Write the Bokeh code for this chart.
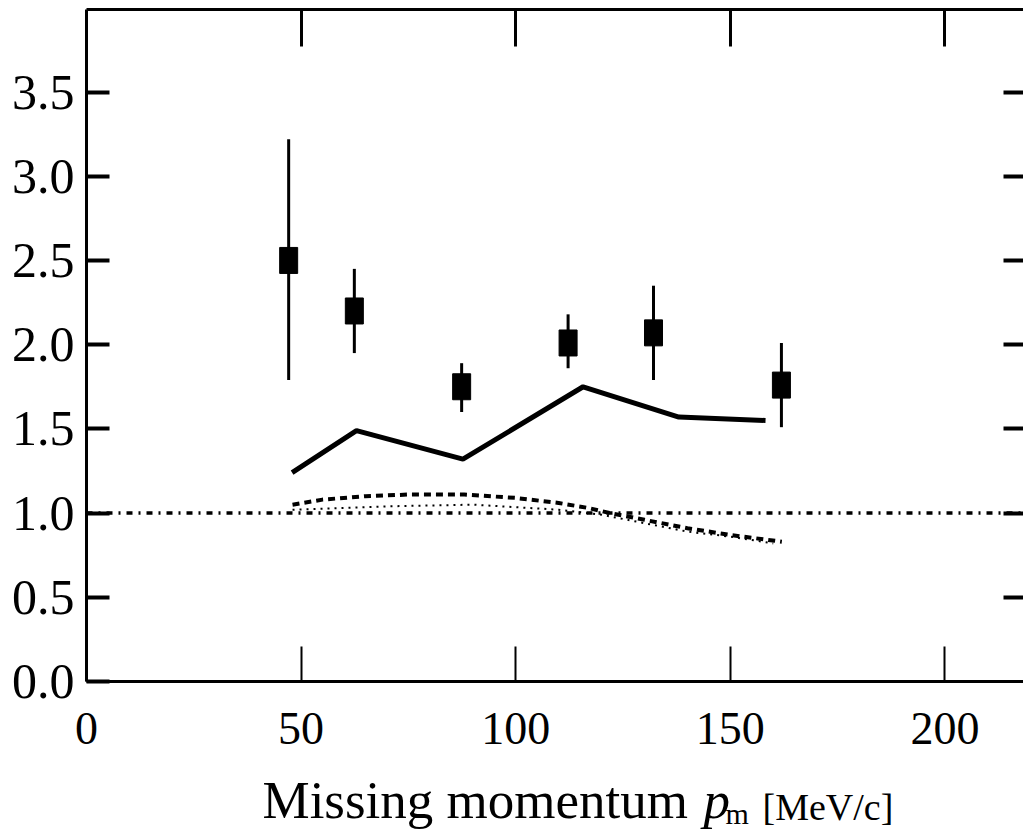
from bokeh.plotting import figure
from bokeh.models import Range1d, LinearAxis, FixedTicker
from bokeh.layouts import column
from bokeh.core.properties import value
from bokeh.embed import file_html
from bokeh.resources import INLINE

# ---- data ----
pm_data = [47.1, 62.4, 87.4, 112.2, 132.1, 161.9]
ratio_data = [2.50, 2.20, 1.75, 2.01, 2.07, 1.76]
err_low = [1.79, 1.95, 1.60, 1.86, 1.79, 1.51]
err_high = [3.22, 2.45, 1.89, 2.18, 2.35, 2.01]

solid_x = [47.9, 62.9, 87.7, 115.7, 138.0, 158.2]
solid_y = [1.24, 1.49, 1.32, 1.75, 1.57, 1.55]

dashed_x = [48, 55, 65, 75, 88, 100, 110, 117, 122, 130, 140, 150, 162]
dashed_y = [1.05, 1.08, 1.10, 1.11, 1.11, 1.09, 1.06, 1.03, 1.00, 0.96, 0.91, 0.87, 0.83]

dotted_x = [48, 70, 90, 110, 120, 130, 140, 150, 160]
dotted_y = [1.02, 1.04, 1.05, 1.02, 0.99, 0.94, 0.89, 0.86, 0.82]

unity_x = [0, 218.3]
unity_y = [1.0, 1.0]

x_ticks = [0, 50, 100, 150, 200]
x_tick_labels = ["0", "50", "100", "150", "200"]
y_ticks = [0.0, 0.5, 1.0, 1.5, 2.0, 2.5, 3.0, 3.5]
y_tick_labels = ["0.0", "0.5", "1.0", "1.5", "2.0", "2.5", "3.0", "3.5"]

title_parts = ["Missing momentum", "p", "m", "[MeV/c]"]

FONT = "Liberation Serif"

p = figure(width=1023, height=766, output_backend="svg", toolbar_location=None,
           x_range=Range1d(0, 218.3), y_range=Range1d(0, 3.99),
           min_border_left=86, min_border_right=0, min_border_top=9,
           min_border_bottom=85)
p.background_fill_color = "white"
p.border_fill_color = "white"
p.outline_line_color = None
p.xgrid.visible = False
p.ygrid.visible = False

# bottom axis
xa = p.xaxis[0]
xa.ticker = FixedTicker(ticks=x_ticks)
xa.major_label_overrides = {t: l for t, l in zip(x_ticks, x_tick_labels)}
xa.major_tick_in = 35
xa.major_tick_out = 0
xa.minor_tick_in = 0
xa.minor_tick_out = 0
xa.major_tick_line_width = 2
xa.axis_line_width = 3
xa.major_label_text_font = FONT
xa.major_label_text_font_size = "46px"
xa.major_label_text_color = "black"
xa.major_label_standoff = 31

# left axis
ya = p.yaxis[0]
ya.ticker = FixedTicker(ticks=y_ticks)
ya.major_label_overrides = {t: l for t, l in zip(y_ticks, y_tick_labels)}
ya.major_tick_in = 23
ya.major_tick_out = 0
ya.minor_tick_in = 0
ya.minor_tick_out = 0
ya.major_tick_line_width = 4
ya.axis_line_width = 3
ya.major_label_text_font = FONT
ya.major_label_text_font_size = "50px"
ya.major_label_text_color = "black"
ya.major_label_standoff = 12

# top axis (ticks only)
top = LinearAxis(ticker=FixedTicker(ticks=x_ticks[1:]), major_tick_in=37, major_tick_out=0,
                 minor_tick_in=0, minor_tick_out=0, major_tick_line_width=3,
                 axis_line_width=3, major_label_overrides={t: "" for t in x_ticks[1:]},
                 major_label_standoff=0)
p.add_layout(top, "above")

# right axis (ticks only)
right = LinearAxis(ticker=FixedTicker(ticks=y_ticks[1:]), major_tick_in=20, major_tick_out=0,
                   minor_tick_in=0, minor_tick_out=0, major_tick_line_width=4,
                   axis_line_color=None, major_label_overrides={t: "" for t in y_ticks[1:]},
                   major_label_standoff=0)
p.add_layout(right, "right")

# curves
p.line(unity_x, unity_y, line_color="black", line_width=3.5, line_dash="6 6 2 6")
p.line(dotted_x, dotted_y, line_color="black", line_width=2, line_dash="2 5")
p.line(dashed_x, dashed_y, line_color="black", line_width=4, line_dash="7 5")
p.line(solid_x, solid_y, line_color="black", line_width=5)

# data with error bars
p.segment(x0=pm_data, y0=err_low, x1=pm_data, y1=err_high, line_color="black", line_width=3)
p.rect(x=pm_data, y=ratio_data, width=18, height=26, width_units="screen",
       height_units="screen", fill_color="black", line_color="black")

# x-axis title strip (italic p, subscript m); x in page pixels
t = figure(width=1023, height=74, output_backend="svg", toolbar_location=None,
           x_range=Range1d(86, 1023), y_range=Range1d(74, 0),
           min_border_left=86, min_border_right=0, min_border_top=0, min_border_bottom=0)
t.axis.visible = False
t.grid.visible = False
t.outline_line_color = None
t.background_fill_color = "white"
t.border_fill_color = "white"
t.text(x=[262], y=[33], text=[title_parts[0]], text_font=value(FONT), text_font_size="53px",
       text_align="left", text_baseline="alphabetic", text_color="black")
t.text(x=[703], y=[33], text=[title_parts[1]], text_font=value(FONT), text_font_size="53px",
       text_font_style="italic", text_align="left", text_baseline="alphabetic", text_color="black")
t.text(x=[725], y=[47], text=[title_parts[2]], text_font=value(FONT), text_font_size="30px",
       text_align="left", text_baseline="alphabetic", text_color="black")
t.text(x=[762], y=[40], text=[title_parts[3]], text_font=value(FONT), text_font_size="38px",
       text_align="left", text_baseline="alphabetic", text_color="black")

layout = column(p, t, spacing=0)
open("out.html", "w").write(file_html(layout, INLINE))
